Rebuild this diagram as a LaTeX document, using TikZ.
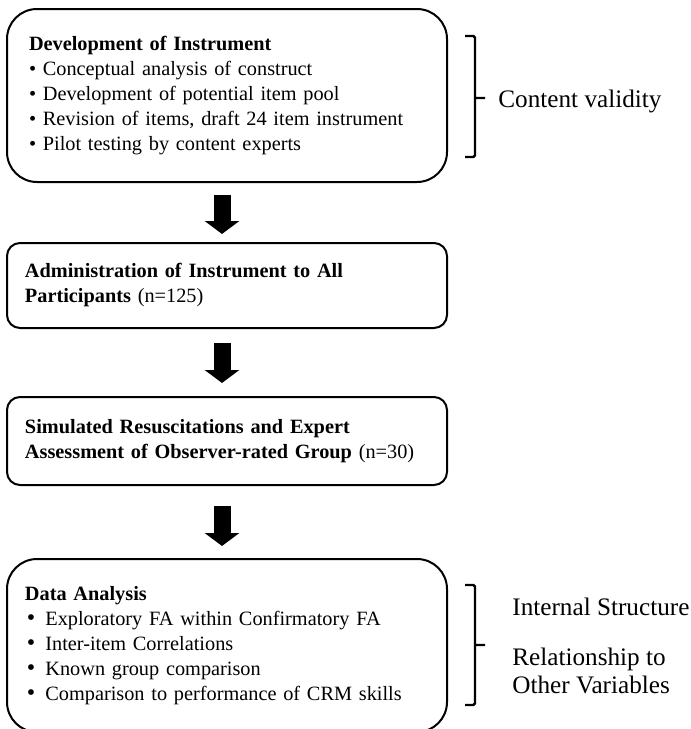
\documentclass[tikz,border=0pt]{standalone}
\usepackage{fontspec}
\setmainfont{Liberation Serif}
\usepackage{tikz}
\usetikzlibrary{arrows.meta, positioning}
\newcommand{\dabul}{\hspace*{1pt}{\large•}\hspace{5pt}}
\tikzset{
  stage/.style={rectangle, rounded corners=#1, draw=black, line width=1pt,
                minimum width=220pt, align=left, inner ysep=0pt,
                font=\fontsize{10.15}{12.5}\selectfont},
  stage/.default=6.5pt,
  flow/.style={-{Triangle[length=6.5pt,width=17pt]}, line width=8.5pt},
  brk/.style={line width=1.2pt, rounded corners=0.8pt},
  side/.style={font=\fontsize{12.6}{14}\selectfont, inner sep=0pt, align=left},
}

\begin{document}
\begin{tikzpicture}[x=0.5pt, y=-0.5pt]
  \useasboundingbox (0,0) rectangle (691,729);

  % ── Stages ─────────────────────────────────────────────────────────────────
  \node[stage=15pt, text width=198pt, inner xsep=11pt, minimum height=86.5pt]
    at (227,95.5) (dev)
    {\textbf{Development of Instrument}\\
     •\ Conceptual analysis of construct\\
     •\ Development of potential item pool\\
     •\ Revision of items, draft 24 item instrument\\
     •\ Pilot testing by content experts};
  \node[stage, text width=202pt, inner xsep=9pt, minimum height=42.5pt]
    at (227,285.5) (admin)
    {\textbf{Administration of Instrument to All}\\
     \textbf{Participants} (n=125)};
  \node[stage, text width=202pt, inner xsep=9pt, minimum height=44pt]
    at (227,441) (sim)
    {\textbf{Simulated Resuscitations and Expert}\\
     \textbf{Assessment of Observer-rated Group} (n=30)};
  \node[stage=15pt, text width=202pt, inner xsep=9pt, minimum height=86.5pt]
    at (227,645.5) (data)
    {\textbf{Data Analysis}\\
     \dabul Exploratory FA within Confirmatory FA\\
     \dabul Inter-item Correlations\\
     \dabul Known group comparison\\
     \dabul Comparison to performance of CRM skills};

  % ── Arrows ─────────────────────────────────────────────────────────────────
  \draw[flow] ([xshift=-2.5pt,yshift=-6pt]dev.south)   -- ([xshift=-2.5pt,yshift=4pt]admin.north);
  \draw[flow] ([xshift=-2.5pt,yshift=-7pt]admin.south) -- ([xshift=-2.5pt,yshift=6.5pt]sim.north);
  \draw[flow] ([xshift=-2.5pt,yshift=-10pt]sim.south)  -- ([xshift=-2.5pt,yshift=6pt]data.north);

  % ── Brackets ───────────────────────────────────────────────────────────────
  \draw[brk] (465,36) -- (475,36) -- (475,157) -- (465,157) (475,98) -- (485,98);
  \draw[brk] (465,585) -- (475,585) -- (475,705) -- (465,705) (475,645) -- (485,645);

  % ── Validity labels ────────────────────────────────────────────────────────
  \node[side, anchor=base west]  at (498,107) (content)  {Content validity};
  \node[side, anchor=base west]  at (512,615) (internal) {Internal Structure};
  \node[side, anchor=north west] at (512,648) (relation) {Relationship to\\Other Variables};
\end{tikzpicture}
\end{document}
